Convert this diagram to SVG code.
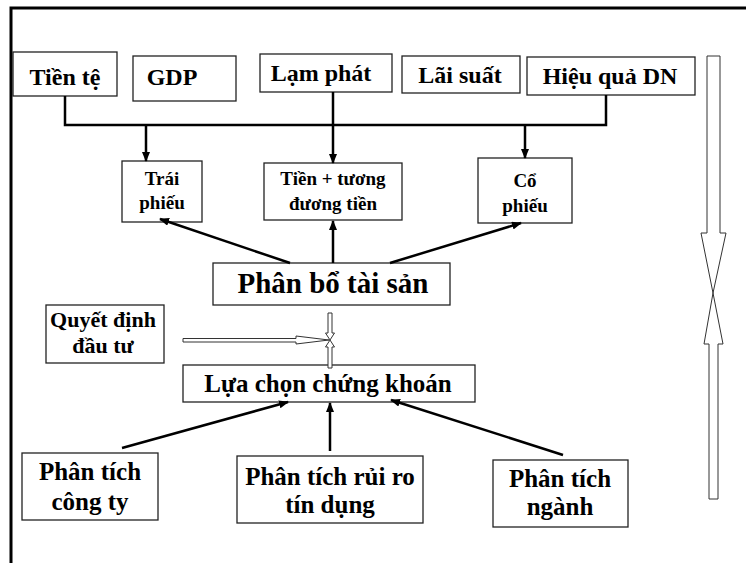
<svg xmlns="http://www.w3.org/2000/svg" width="746" height="563" viewBox="0 0 746 563">
<defs>
<style>
.box{fill:#fff;stroke:#222;stroke-width:1.3}
.t{font-family:'Liberation Serif','DejaVu Serif',serif;font-weight:bold;fill:#000;text-anchor:middle}
.c{fill:none;stroke:#000;stroke-width:2.5}
.blk{fill:#fff;stroke:#333;stroke-width:1}
</style>
<marker id="ah" markerUnits="userSpaceOnUse" markerWidth="10" markerHeight="8" refX="9" refY="4" orient="auto">
<path d="M0,0 L10,4 L0,8 Z" fill="#000"/>
</marker>
</defs>
<rect width="746" height="563" fill="#fff"/>
<path d="M11,563 V8 H746" fill="none" stroke="#000" stroke-width="3"/>
<g font-family="Liberation Serif, DejaVu Serif, serif">
<g id="tiente"><rect class="box" x="13" y="52" width="104" height="44"/><text class="t" x="65" y="85" font-size="24">Tiền tệ</text></g>
<g id="gdp"><rect class="box" x="133" y="56" width="103" height="45"/><text class="t" x="172" y="85" font-size="24">GDP</text></g>
<g id="lamphat"><rect class="box" x="260" y="54" width="132" height="38"/><text class="t" x="321" y="81" font-size="24">Lạm phát</text></g>
<g id="laisuat"><rect class="box" x="402" y="56" width="118" height="37"/><text class="t" x="460" y="83" font-size="24">Lãi suất</text></g>
<g id="hieuqua"><rect class="box" x="527" y="57" width="168" height="38"/><text class="t" x="610" y="84" font-size="24">Hiệu quả DN</text></g>

<g id="traiphieu"><rect class="box" x="122" y="161" width="80" height="61"/><text class="t" x="162" y="185" font-size="19">Trái</text><text class="t" x="162" y="209" font-size="19">phiếu</text></g>
<g id="tien"><rect class="box" x="264" y="163" width="138" height="57"/><text class="t" x="333" y="185" font-size="19">Tiền + tương</text><text class="t" x="333" y="210" font-size="19">đương tiền</text></g>
<g id="cophieu"><rect class="box" x="478" y="158" width="94" height="65"/><text class="t" x="525" y="187" font-size="19">Cổ</text><text class="t" x="525" y="212" font-size="19">phiếu</text></g>

<g id="phanbo"><rect class="box" x="213" y="263" width="237" height="42"/><text class="t" x="333" y="293" font-size="29">Phân bổ tài sản</text></g>
<g id="quyetdinh"><rect class="box" x="46" y="305" width="118" height="58"/><text class="t" x="103" y="327" font-size="22">Quyết định</text><text class="t" x="103" y="353" font-size="22">đầu tư</text></g>
<g id="luachon"><rect class="box" x="183" y="365" width="292" height="37"/><text class="t" x="328" y="392" font-size="25">Lựa chọn chứng khoán</text></g>

<g id="ptcongty"><rect class="box" x="22" y="453" width="136" height="67"/><text class="t" x="90" y="480" font-size="25">Phân tích</text><text class="t" x="90" y="510" font-size="25">công ty</text></g>
<g id="ptruiro"><rect class="box" x="237" y="456" width="186" height="67"/><text class="t" x="330" y="485" font-size="25">Phân tích rủi ro</text><text class="t" x="330" y="513" font-size="25">tín dụng</text></g>
<g id="ptnganh"><rect class="box" x="493" y="460" width="135" height="67"/><text class="t" x="560" y="487" font-size="25">Phân tích</text><text class="t" x="560" y="515" font-size="25">ngành</text></g>
</g>
<g id="connectors">
<path class="c" d="M65,96 V125 H606 V95"/>
<path class="c" d="M333,92 V125"/>
<path class="c" d="M146,125 V161" marker-end="url(#ah)"/>
<path class="c" d="M333,125 V163" marker-end="url(#ah)"/>
<path class="c" d="M525,125 V158" marker-end="url(#ah)"/>
<path class="c" d="M290,263 L160,219" marker-end="url(#ah)"/>
<path class="c" d="M333,263 V221" marker-end="url(#ah)"/>
<path class="c" d="M390,263 L521,223" marker-end="url(#ah)"/>
<path class="c" d="M122,448 L288,402" marker-end="url(#ah)"/>
<path class="c" d="M330,451 V403" marker-end="url(#ah)"/>
<path class="c" d="M563,455 L391,400" marker-end="url(#ah)"/>
<polygon class="blk" points="183,338.5 296,338.5 296,336 329,340 296,344 296,342 183,342"/>
<polygon class="blk" points="328,313 332,313 332,333 334.5,333 330,340 325.5,333 328,333"/>
<polygon class="blk" points="328,368 332,368 332,347 334.5,347 330,340 325.5,347 328,347"/>
<polygon class="blk" points="707,56 720,56 720,233 726,233 713,293 701,233 707,233"/>
<polygon class="blk" points="709,499 718,499 718,344 723,344 713,293 704,344 709,344"/>
</g>
</svg>
